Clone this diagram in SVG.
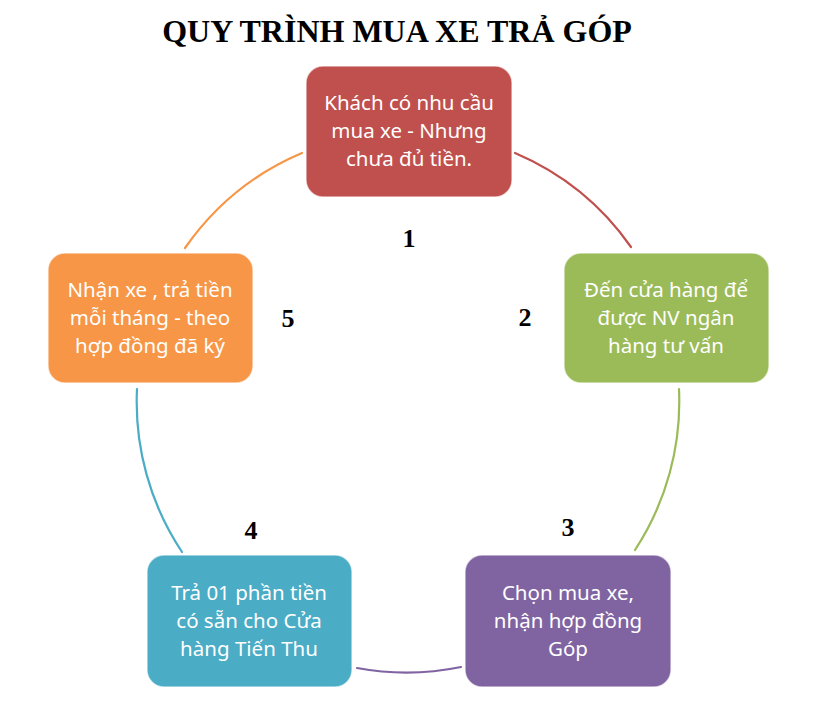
<svg xmlns="http://www.w3.org/2000/svg" width="826" height="728" viewBox="0 0 826 728">
<style>
.box{stroke:#ffffff;stroke-width:1.5;stroke-opacity:0.6}
.t{font-family:"Noto Sans","Open Sans",sans-serif;font-size:20.5px;fill:#ffffff;text-anchor:middle}
.num{font-family:"Liberation Serif","Times New Roman",serif;font-weight:bold;font-size:26px;fill:#000;text-anchor:middle}
.arc{fill:none;stroke-width:2.2;stroke-linecap:round}
</style>
<rect width="826" height="728" fill="#ffffff"/>
<text x="397" y="42" font-family="Liberation Serif,'Times New Roman',serif" font-weight="bold" font-size="32" text-anchor="middle" fill="#000">QUY TRÌNH MUA XE TRẢ GÓP</text>
<g id="connectors">
<path class="arc" stroke="#C0504D" d="M515,153 A271,271 0 0 1 631,247"/>
<path class="arc" stroke="#9BBB59" d="M679,389 A271,271 0 0 1 635,550"/>
<path class="arc" stroke="#8064A2" d="M461,667 A271,271 0 0 1 357,668"/>
<path class="arc" stroke="#4BACC6" d="M182,552 A271,271 0 0 1 137,389"/>
<path class="arc" stroke="#F79646" d="M185,248 A271,271 0 0 1 302,153"/>
</g>
<g id="node1">
<rect class="box" x="306" y="66" width="206" height="131" rx="17" fill="#C0504D"/>
<text class="t" x="409" y="110">Khách có nhu cầu</text>
<text class="t" x="409" y="138">mua xe - Nhưng</text>
<text class="t" x="409" y="166">chưa đủ tiền.</text>
</g>
<g id="node2">
<rect class="box" x="564" y="253" width="205" height="130" rx="17" fill="#9BBB59"/>
<text class="t" x="666" y="297">Đến cửa hàng để</text>
<text class="t" x="666" y="325">được NV ngân</text>
<text class="t" x="666" y="353">hàng tư vấn</text>
</g>
<g id="node3">
<rect class="box" x="465" y="555" width="206" height="132" rx="17" fill="#8064A2"/>
<text class="t" x="568" y="600">Chọn mua xe,</text>
<text class="t" x="568" y="628">nhận hợp đồng</text>
<text class="t" x="568" y="656">Góp</text>
</g>
<g id="node4">
<rect class="box" x="147" y="555" width="205" height="132" rx="17" fill="#4BACC6"/>
<text class="t" x="249" y="600">Trả 01 phần tiền</text>
<text class="t" x="249" y="628">có sẵn cho Cửa</text>
<text class="t" x="249" y="656">hàng Tiến Thu</text>
</g>
<g id="node5">
<rect class="box" x="48" y="253" width="205" height="130" rx="17" fill="#F79646"/>
<text class="t" x="150" y="297">Nhận xe , trả tiền</text>
<text class="t" x="150" y="325">mỗi tháng - theo</text>
<text class="t" x="150" y="353">hợp đồng đã ký</text>
</g>
<g id="labels">
<text class="num" x="409" y="247">1</text>
<text class="num" x="525" y="326">2</text>
<text class="num" x="568" y="536">3</text>
<text class="num" x="251" y="539">4</text>
<text class="num" x="288" y="327">5</text>
</g>
</svg>
